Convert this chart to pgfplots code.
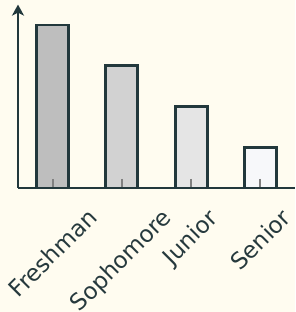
\documentclass[border=0pt]{standalone}
\usepackage{pgfplots}
\pgfplotsset{compat=1.18}
\usetikzlibrary{arrows.meta}
\usepackage{fontspec}
\setmainfont{DejaVu Sans}
\usepackage{graphicx}
\definecolor{bgc}{HTML}{FFFCF0}
\definecolor{ink}{HTML}{22383C}
\definecolor{txt}{HTML}{26393D}
\definecolor{c1}{HTML}{BEBEBE}
\definecolor{c2}{HTML}{D2D2D2}
\definecolor{c3}{HTML}{E5E5E5}
\definecolor{c4}{HTML}{F7F8FA}
\begin{document}
\begin{tikzpicture}
\fill[bgc] (0,0) rectangle (295pt,312pt);
\begin{axis}[
  at={(18pt,124pt)}, anchor=south west,
  scale only axis,
  width=277pt, height=183.4pt,
  xmin=-0.5, xmax=3.5, ymin=0, ymax=4.5,
  axis x line*=bottom, axis y line*=left,
  axis line style={ink, line width=2.4pt},
  x axis line style={-},
  y axis line style={-{Stealth[length=11pt,width=12pt,inset=3pt]}},
  ytick=\empty,
  xtick={0,1,2,3},
  xticklabels={\rotatebox{45}{Freshman},\rotatebox{45}{Sophomore},\rotatebox{45}{Junior},\rotatebox{45}{Senior}},
  xticklabel style={anchor=north, font=\fontsize{23}{28}\selectfont, text=txt, inner sep=0pt, yshift=-28pt},
  xtick align=outside,
  major tick length=-9pt,
  xtick style={draw=gray, line width=2pt},
  axis on top,
  ybar, bar width=32pt,
  clip=false,
]
\addplot[bar shift=0pt, fill=c1, draw=ink, line width=2.8pt] coordinates {(0,4)};
\addplot[bar shift=0pt, fill=c2, draw=ink, line width=2.8pt] coordinates {(1,3)};
\addplot[bar shift=0pt, fill=c3, draw=ink, line width=2.8pt] coordinates {(2,2)};
\addplot[bar shift=0pt, fill=c4, draw=ink, line width=2.8pt] coordinates {(3,1)};
\end{axis}
\pgfresetboundingbox
\path[use as bounding box] (0,0) rectangle (295pt,312pt);
\end{tikzpicture}
\end{document}
